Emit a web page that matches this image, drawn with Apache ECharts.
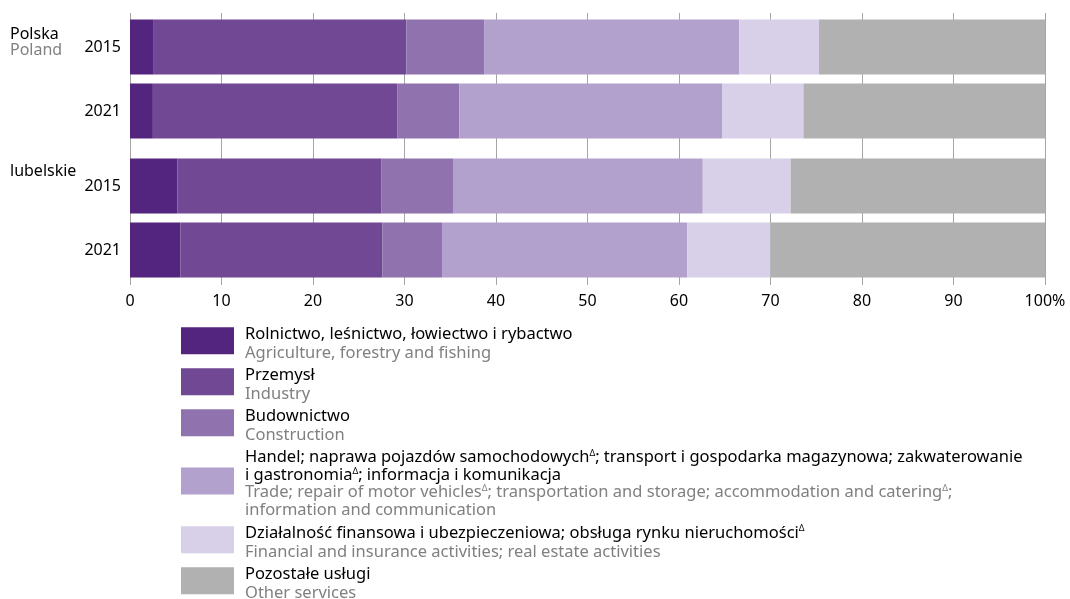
<!DOCTYPE html>
<html><head><meta charset="utf-8">
<script src="https://cdn.jsdelivr.net/npm/echarts@6/dist/echarts.min.js"></script>
<style>html,body{margin:0;padding:0;background:#fff}#c{width:1070px;height:599px}</style>
</head><body><div id="c"></div>
<script>
const years = ['2015', '2021'];
const groups = ['Polska', 'lubelskie'];
const xTicks = [0, 10, 20, 30, 40, 50, 60, 70, 80, 90, 100];
const seriesNames = [
  'Rolnictwo, leśnictwo, łowiectwo i rybactwo',
  'Przemysł',
  'Budownictwo',
  'Handel; naprawa pojazdów samochodowych; transport i gospodarka magazynowa; zakwaterowanie i gastronomia; informacja i komunikacja',
  'Działalność finansowa i ubezpieczeniowa; obsługa rynku nieruchomości',
  'Pozostałe usługi'
];
// values per series: [2015, 2021]
const polska = [
  [2.6, 2.5],
  [27.6, 26.7],
  [8.5, 6.8],
  [27.9, 28.7],
  [8.7, 8.9],
  [24.7, 26.4]
];
const lubelskie = [
  [5.2, 5.5],
  [22.3, 22.1],
  [7.8, 6.5],
  [27.3, 26.8],
  [9.6, 9.1],
  [27.8, 30.0]
];
const colors = ['#53257f', '#704894', '#8f72ae', '#b3a1cd', '#d8d0e8', '#b1b1b1'];

const legendRich = [
  '{pl|Rolnictwo, leśnictwo, łowiectwo i rybactwo}\n{en|Agriculture, forestry and fishing}',
  '{pl|Przemysł}\n{en|Industry}',
  '{pl|Budownictwo}\n{en|Construction}',
  '{pl|Handel; naprawa pojazdów samochodowych}{sup|Δ}{pl|; transport i gospodarka magazynowa; zakwaterowanie}\n{pl|i gastronomia}{sup|Δ}{pl|; informacja i komunikacja}\n{en|Trade; repair of motor vehicles}{supg|Δ}{en|; transportation and storage; accommodation and catering}{supg|Δ}{en|;}\n{en|information and communication}',
  '{pl|Działalność finansowa i ubezpieczeniowa; obsługa rynku nieruchomości}{sup|Δ}\n{en|Financial and insurance activities; real estate activities}',
  '{pl|Pozostałe usługi}\n{en|Other services}'
];

const FONT = 'Noto Sans';
const chart = echarts.init(document.getElementById('c'), null, {renderer: 'canvas'});

const series = [];
seriesNames.forEach((n, i) => {
  series.push({name: n, type: 'bar', stack: 'a', xAxisIndex: 1, yAxisIndex: 1,
    data: polska[i], barWidth: 55, itemStyle: {color: colors[i]}, silent: true});
  series.push({name: n, type: 'bar', stack: 'b', xAxisIndex: 2, yAxisIndex: 2,
    data: lubelskie[i], barWidth: 55, itemStyle: {color: colors[i]}, silent: true});
});

const hiddenX = (gi) => ({type: 'value', gridIndex: gi, min: 0, max: 100, interval: 10, show: false});
const yCat = (gi) => ({type: 'category', gridIndex: gi, data: years, inverse: true,
  axisLine: {show: false}, axisTick: {show: false},
  axisLabel: {color: '#000', fontFamily: FONT, fontSize: 16, margin: 9}});

const makeRich = (lh) => ({
  pl: {fontFamily: FONT, fontSize: 16.5, color: '#000', lineHeight: lh},
  en: {fontFamily: FONT, fontSize: 16.5, color: '#808080', lineHeight: lh},
  sup: {fontFamily: FONT, fontSize: 9, color: '#000', lineHeight: lh, verticalAlign: 'top'},
  supg: {fontFamily: FONT, fontSize: 9, color: '#808080', lineHeight: lh, verticalAlign: 'top'}
});

chart.setOption({
  animation: false,
  textStyle: {fontFamily: FONT},
  grid: [
    {left: 130, width: 915, top: 13, height: 272},
    {left: 130, width: 915, top: 15, height: 128},
    {left: 130, width: 915, top: 154, height: 128}
  ],
  xAxis: [
    {type: 'value', gridIndex: 0, min: 0, max: 100, interval: 10,
      axisLine: {show: false}, axisTick: {show: false},
      splitLine: {show: true, lineStyle: {color: '#a6a6a6', width: 1}},
      axisLabel: {color: '#000', fontFamily: FONT, fontSize: 16, margin: 8,
        formatter: v => v === 100 ? '100%' : String(v)}},
    hiddenX(1), hiddenX(2)
  ],
  yAxis: [
    {type: 'category', gridIndex: 0, data: [''], show: false},
    yCat(1), yCat(2)
  ],
  legend: {
    orient: 'vertical', left: 181, top: 326, padding: 0, height: 400,
    itemWidth: 53, itemHeight: 27, itemGap: 5.5,
    icon: 'rect', selectedMode: false,
    data: seriesNames.map((n, i) => i === 3
      ? {name: n, textStyle: {padding: [6, 0, 0, 6], rich: makeRich(17.5)}}
      : {name: n}),
    formatter: name => legendRich[seriesNames.indexOf(name)],
    textStyle: {
      padding: [6, 0, 0, 6],
      rich: makeRich(18.5)
    }
  },
  graphic: [
    {type: 'text', left: 10, top: 26.5, style: {text: groups[0], fontFamily: FONT, fontSize: 16, fill: '#000'}},
    {type: 'text', left: 10, top: 42.5, style: {text: 'Poland', fontFamily: FONT, fontSize: 16, fill: '#808080'}},
    {type: 'text', left: 10, top: 163, style: {text: groups[1], fontFamily: FONT, fontSize: 16, fill: '#000'}}
  ],
  series: series
});
</script>
</body></html>
